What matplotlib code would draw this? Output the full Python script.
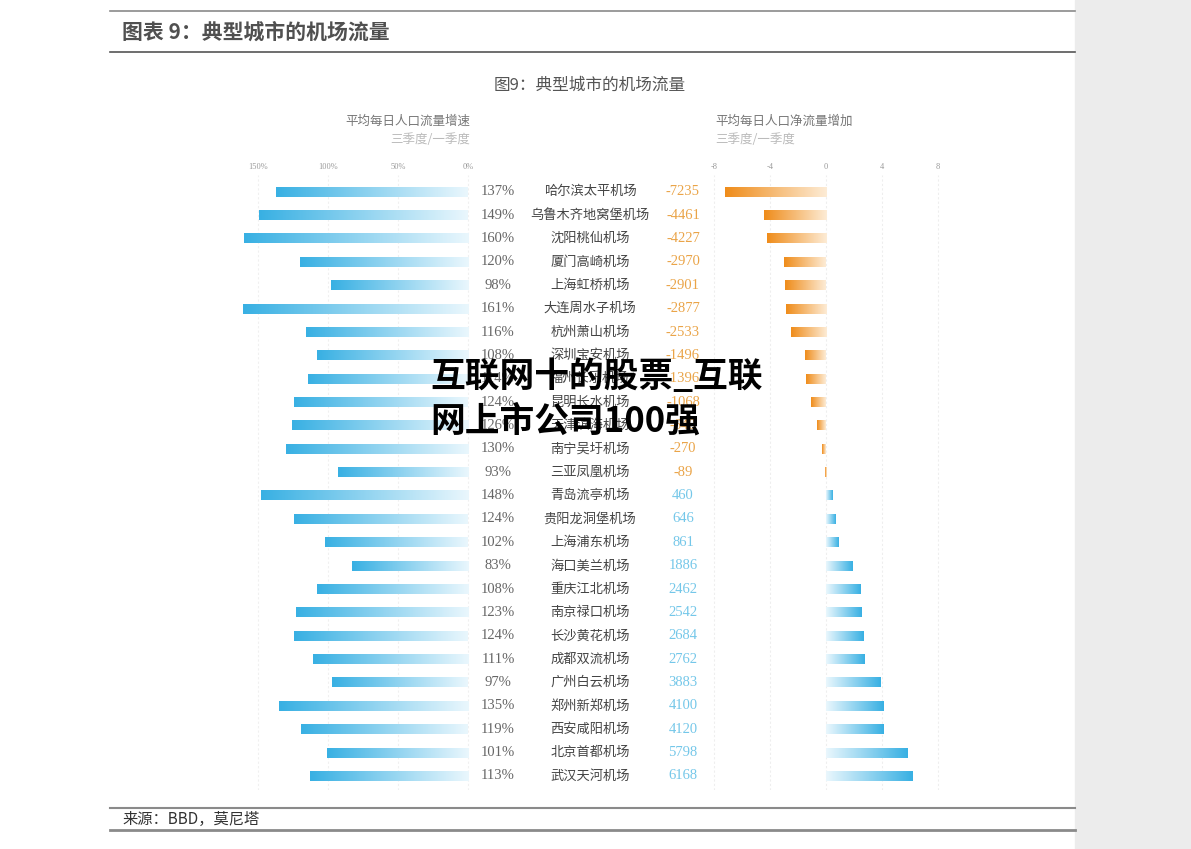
import numpy as np
import matplotlib
matplotlib.use("Agg")
from matplotlib import pyplot as plt
from matplotlib import transforms
from matplotlib.colors import LinearSegmentedColormap

plt.rcParams['font.family'] = ['Noto Sans CJK SC', 'DejaVu Sans']

airports = ['哈尔滨太平机场', '乌鲁木齐地窝堡机场', '沈阳桃仙机场', '厦门高崎机场', '上海虹桥机场',
            '大连周水子机场', '杭州萧山机场', '深圳宝安机场', '福州长乐机场', '昆明长水机场',
            '天津滨海机场', '南宁吴圩机场', '三亚凤凰机场', '青岛流亭机场', '贵阳龙洞堡机场',
            '上海浦东机场', '海口美兰机场', '重庆江北机场', '南京禄口机场', '长沙黄花机场',
            '成都双流机场', '广州白云机场', '郑州新郑机场', '西安咸阳机场', '北京首都机场',
            '武汉天河机场']
growth = [137, 149, 160, 120, 98, 161, 116, 108, 114, 124, 126, 130, 93, 148, 124,
          102, 83, 108, 123, 124, 111, 97, 135, 119, 101, 113]
net_flow = [-7235, -4461, -4227, -2970, -2901, -2877, -2533, -1496, -1396, -1068, -640,
            -270, -89, 460, 646, 861, 1886, 2462, 2542, 2684, 2762, 3883, 4100, 4120,
            5798, 6168]

left_ticks = [150, 100, 50, 0]
left_ticklabels = ['150%', '100%', '50%', '0%']
right_ticks = [-8, -4, 0, 4, 8]

W, H = 1191, 849
fig = plt.figure(figsize=(W / 100, H / 100), dpi=100)
fig.patch.set_facecolor('white')


def px_rect(x0, y0, x1, y1):
    return [x0 / W, 1 - y1 / H, (x1 - x0) / W, (y1 - y0) / H]


# grey side panel and report frame
fig.patches.append(plt.Rectangle((1075 / W, 0), (W - 1075) / W, 1, transform=fig.transFigure,
                                 color='#ececec', zorder=0))
for y, c, lw in [(11, '#8a8a8a', 1.2), (52, '#555555', 1.2), (808, '#8a8a8a', 1.5), (830, '#8a8a8a', 2)]:
    fig.add_artist(plt.Line2D([110 / W, 1075 / W], [1 - y / H] * 2, color=c, lw=lw))
fig.text(122 / W, 1 - 32 / H, '图表 9：典型城市的机场流量', fontsize=15, fontweight='bold',
         color='#505050', va='center', ha='left')
fig.text(122 / W, 1 - 819 / H, '来源：BBD，莫尼塔', fontsize=11, color='#333333',
         va='center', ha='left', family=['Noto Sans CJK SC'])
fig.text(590 / W, 1 - 85 / H, '图9：典型城市的机场流量', fontsize=12, color='#555555',
         va='center', ha='center')

blue_cm = LinearSegmentedColormap.from_list('b', ['#eaf7fd', '#38b0e3'])
orange_cm = LinearSegmentedColormap.from_list('o', ['#fdecd6', '#ef8c1a'])
grad = np.linspace(0, 1, 256).reshape(1, -1)

n = len(airports)
rows = np.arange(n)
bar_h = 0.42
ylim = (n - 1 + 0.6, -0.72)

axL = fig.add_axes(px_rect(235, 175, 470, 790))
axR = fig.add_axes(px_rect(705, 175, 945, 790))

for ax in (axL, axR):
    for s in ax.spines.values():
        s.set_visible(False)
    ax.set_yticks([])
    ax.tick_params(axis='x', length=0, labelsize=6, labelcolor='#999999', pad=3)
    ax.xaxis.tick_top()

axL.set_xticks(left_ticks)
axL.set_xticklabels(left_ticklabels, family=['Liberation Serif', 'DejaVu Sans'])
axR.set_xticks(right_ticks)
axR.set_xticklabels([str(t) for t in right_ticks], family=['Liberation Serif', 'DejaVu Sans'])

for t in left_ticks:
    axL.axvline(t, color='#f0f0f0', lw=0.8, ls=(0, (2, 2)), zorder=0)
for t in right_ticks:
    axR.axvline(t, color='#eeeeee', lw=0.8, ls=(0, (2, 2)), zorder=0)

for i, g in zip(rows, growth):
    axL.imshow(grad, cmap=blue_cm, aspect='auto', extent=(0, g, i + bar_h / 2, i - bar_h / 2),
               interpolation='bilinear', zorder=2)
for i, v in zip(rows, net_flow):
    v = v / 1000
    cm = orange_cm if v < 0 else blue_cm
    axR.imshow(grad, cmap=cm, aspect='auto', extent=(0, v, i + bar_h / 2, i - bar_h / 2),
               interpolation='bilinear', zorder=2)
axL.set_xlim(166.4, -1.43)
axR.set_xlim(-8.64, 8.5)
for ax in (axL, axR):
    ax.set_ylim(*ylim)

axL.text(1.0, 1 + 54 / 615, '平均每日人口流量增速', transform=axL.transAxes, ha='right',
         va='center', fontsize=9, color='#777777')
axL.text(1.0, 1 + 35 / 615, '三季度/一季度', transform=axL.transAxes, ha='right',
         va='center', fontsize=9, color='#bbbbbb')
axR.text(10 / 240, 1 + 54 / 615, '平均每日人口净流量增加', transform=axR.transAxes, ha='left',
         va='center', fontsize=9, color='#777777')
axR.text(10 / 240, 1 + 35 / 615, '三季度/一季度', transform=axR.transAxes, ha='left',
         va='center', fontsize=9, color='#bbbbbb')

tr = transforms.blended_transform_factory(fig.transFigure, axL.transData)
for i, (a, g, v) in enumerate(zip(airports, growth, net_flow)):
    fig.text(498 / W, i, f'{g}%', transform=tr, ha='center', va='center', fontsize=10.5,
             color='#666666', family=['Liberation Serif', 'DejaVu Sans'])
    fig.text(590 / W, i, a, transform=tr, ha='center', va='center', fontsize=9.5,
             color='#444444')
    fig.text(683 / W, i, f'{v}', transform=tr, ha='center', va='center', fontsize=10.5,
             color='#eaa448' if v < 0 else '#74c7e9', family=['Liberation Serif', 'DejaVu Sans'])

# overlay caption
fig.text(430 / W, 1 - 376 / H, '互联网十的股票_互联', fontsize=25, fontweight='bold',
         color='black', ha='left', va='center', zorder=10)
fig.text(430 / W, 1 - 421 / H, '网上市公司100强', fontsize=25, fontweight='bold',
         color='black', ha='left', va='center', zorder=10)

fig.savefig('out.png', dpi=100, facecolor='white')
